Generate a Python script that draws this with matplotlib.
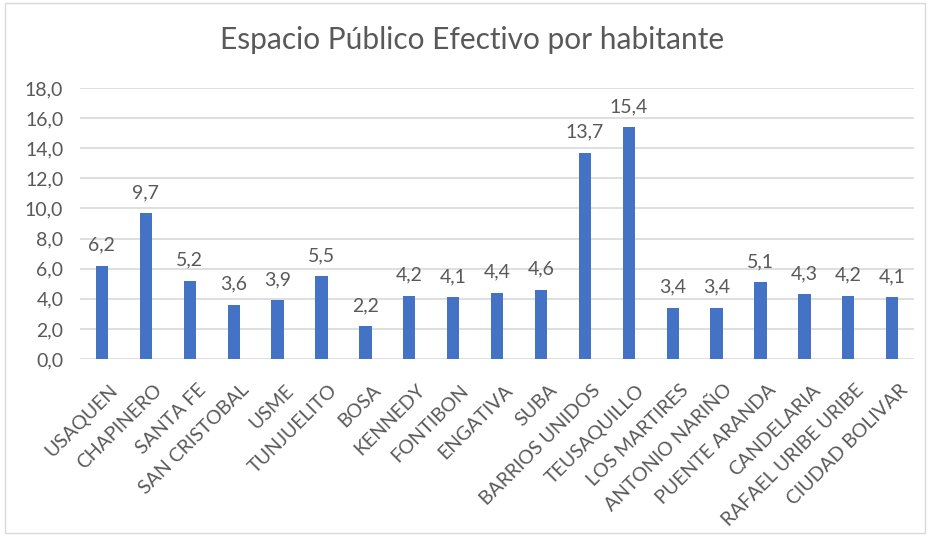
import matplotlib.pyplot as plt
from matplotlib.patches import Rectangle
from matplotlib.transforms import ScaledTranslation
import numpy as np

localidades = ['USAQUEN', 'CHAPINERO', 'SANTA FE', 'SAN CRISTOBAL', 'USME',
               'TUNJUELITO', 'BOSA', 'KENNEDY', 'FONTIBON', 'ENGATIVA', 'SUBA',
               'BARRIOS UNIDOS', 'TEUSAQUILLO', 'LOS MARTIRES', 'ANTONIO NARIÑO',
               'PUENTE ARANDA', 'CANDELARIA', 'RAFAEL URIBE URIBE', 'CIUDAD BOLIVAR']
epe = [6.2, 9.7, 5.2, 3.6, 3.9, 5.5, 2.2, 4.2, 4.1, 4.4, 4.6,
       13.7, 15.4, 3.4, 3.4, 5.1, 4.3, 4.2, 4.1]
y_ticks = [0, 2, 4, 6, 8, 10, 12, 14, 16, 18]

TXT = '#595959'
plt.rcParams['font.family'] = ['Lato', 'DejaVu Sans']

fig = plt.figure(figsize=(9.3, 5.36), dpi=100)
ax = fig.add_axes([0.086, 0.330, 0.897, 0.506])

x = np.arange(len(localidades))
ax.bar(x, epe, width=0.28, color='#4472C4', zorder=3)
for xi, v in zip(x, epe):
    ax.text(xi, v + 0.8, f'{v:.1f}'.replace('.', ','), ha='center', va='bottom',
            fontsize=14, color=TXT)

ax.set_xlim(-0.5, len(localidades) - 0.5)
ax.set_ylim(0, 18)
ax.set_yticks(y_ticks)
ax.set_yticklabels([f'{t:.1f}'.replace('.', ',') for t in y_ticks])
ax.set_xticks(x)
ax.set_xticklabels(localidades, rotation=45, ha='right', rotation_mode='anchor')
ax.tick_params(axis='both', length=0, labelsize=14, colors=TXT)
ax.tick_params(axis='x', pad=16)
ax.tick_params(axis='y', pad=12)
# nudge rotated labels a bit to the right, like Excel places them
shift = ScaledTranslation(5 / 72, 0, fig.dpi_scale_trans)
for lbl in ax.get_xticklabels():
    lbl.set_transform(lbl.get_transform() + shift)
ax.grid(axis='y', color='#D9D9D9', linewidth=1.2, zorder=0)
for s in ax.spines.values():
    s.set_visible(False)

fig.text(0.508, 0.925, 'Espacio Público Efectivo por habitante', ha='center',
         va='center', fontsize=21.5, color=TXT)
fig.patches.append(Rectangle((0.005, 0.006), 0.99, 0.988, transform=fig.transFigure,
                             fill=False, edgecolor='#D9D9D9', linewidth=1))

fig.savefig('out.png', dpi=100)
